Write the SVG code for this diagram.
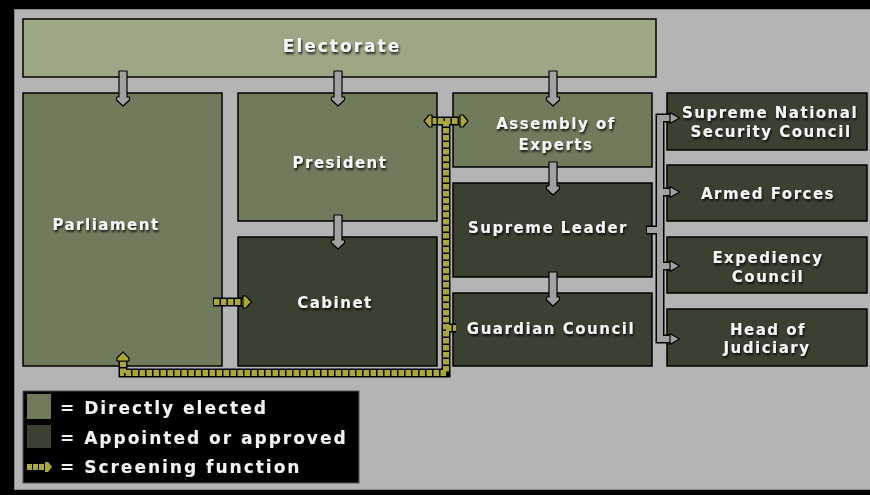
<svg xmlns="http://www.w3.org/2000/svg" width="870" height="495" viewBox="0 0 870 495">
<defs>
<filter id="sh" x="-10%" y="-30%" width="130%" height="180%">
<feDropShadow dx="1" dy="2" stdDeviation="1.2" flood-color="#000" flood-opacity="0.85"/>
</filter>
</defs>
<style>
.box{stroke:#000;stroke-width:1.5}
.lt{fill:#9ba785}
.md{fill:#6f7b5b}
.dk{fill:#3b4131}
.t{font-family:"DejaVu Sans",Verdana,sans-serif;font-weight:bold;font-size:15px;letter-spacing:1.5px;fill:#f6f6f6;text-anchor:middle;filter:url(#sh)}
.lg{font-family:"DejaVu Sans",Verdana,sans-serif;font-weight:bold;font-size:17px;letter-spacing:2px;fill:#f2f2f2;filter:url(#sh)}
.ga{fill:#a2a2a2;stroke:#000;stroke-width:1.2;stroke-linejoin:round}
.gl-o{fill:none;stroke:#000;stroke-width:9}
.gl-i{fill:none;stroke:#a2a2a2;stroke-width:6}
.yl-o{fill:none;stroke:#000;stroke-width:9}
.yl-i{fill:none;stroke:#aaa934;stroke-width:6;stroke-dasharray:5.5 1.5}
.ya{fill:#aaa934;stroke:#000;stroke-width:1.2;stroke-linejoin:round}
</style>
<rect x="0" y="0" width="870" height="495" fill="#000"/>
<rect x="14.5" y="9.5" width="860" height="480" fill="#b4b4b4" stroke="#8a8a8a" stroke-width="1"/>

<g id="electorate"><rect class="box lt" x="23" y="19" width="633" height="58"/><text class="t" x="342" y="52" style="font-size:17px;letter-spacing:2px">Electorate</text></g>
<g id="parliament"><rect class="box md" x="23" y="93" width="199" height="273"/><text class="t" x="106" y="230">Parliament</text></g>
<g id="president"><rect class="box md" x="238" y="93" width="199" height="128"/><text class="t" x="340" y="168">President</text></g>
<g id="cabinet"><rect class="box dk" x="238" y="237" width="199" height="129"/><text class="t" x="335" y="308">Cabinet</text></g>
<g id="assembly"><rect class="box md" x="453" y="93" width="199" height="74"/><text class="t" x="556" y="129">Assembly of</text><text class="t" x="556" y="150">Experts</text></g>
<g id="leader"><rect class="box dk" x="453" y="183" width="199" height="94"/><text class="t" x="548" y="233">Supreme Leader</text></g>
<g id="guardian"><rect class="box dk" x="453" y="293" width="199" height="73"/><text class="t" x="551" y="334">Guardian Council</text></g>
<g id="snsc"><rect class="box dk" x="667" y="93" width="200" height="57"/><text class="t" x="770" y="118">Supreme National</text><text class="t" x="771" y="137">Security Council</text></g>
<g id="armed"><rect class="box dk" x="667" y="165" width="200" height="56"/><text class="t" x="768" y="199">Armed Forces</text></g>
<g id="expediency"><rect class="box dk" x="667" y="237" width="200" height="56"/><text class="t" x="768" y="263">Expediency</text><text class="t" x="768" y="282">Council</text></g>
<g id="judiciary"><rect class="box dk" x="667" y="309" width="200" height="57"/><text class="t" x="768" y="335">Head of</text><text class="t" x="767" y="353">Judiciary</text></g>

<g id="connectors">
<polygon class="ga" points="119,71 127,71 127,97 129.5,97 129.5,100 123,106 116.5,100 116.5,97 119,97"/>
<polygon class="ga" points="334,71 342,71 342,97 344.5,97 344.5,100 338,106 331.5,100 331.5,97 334,97"/>
<polygon class="ga" points="549,71 557,71 557,97 559.5,97 559.5,100 553,106 546.5,100 546.5,97 549,97"/>
<polygon class="ga" points="334,215 342,215 342,240 344.5,240 344.5,243 338,249 331.5,243 331.5,240 334,240"/>
<polygon class="ga" points="549,162 557,162 557,186 559.5,186 559.5,189 553,195 546.5,189 546.5,186 549,186"/>
<polygon class="ga" points="549,272 557,272 557,297 559.5,297 559.5,300 553,306 546.5,300 546.5,297 549,297"/>

<path class="gl-o" d="M646 230H660M672 118H660V339H672M660 192H672M660 266H672"/>
<path class="gl-i" d="M647 230H660M672 118H660V339H672M660 192H672M660 266H672"/>
<polygon class="ga" points="670,112.5 679.5,118 670,123.5"/>
<polygon class="ga" points="670,186.5 679.5,192 670,197.5"/>
<polygon class="ga" points="670,260.5 679.5,266 670,271.5"/>
<polygon class="ga" points="670,333.5 679.5,339 670,344.5"/>

<path class="yl-o" d="M123 360V373H446V121M430 121H462M446 328H456M213 302H243"/>
<path class="yl-i" d="M446 121V373H123V360M431 121H461M446 328H456M214 302H243"/>
<polygon class="ya" points="117,361 117,358 123,352 129,358 129,361"/>
<polygon class="ya" points="432,115 429,115 424,121 429,127 432,127"/>
<polygon class="ya" points="460,115 463,115 468,121 463,127 460,127"/>
<polygon class="ya" points="243,296 246,296 251.5,302 246,308 243,308"/>
</g>

<g id="legend">
<rect x="23" y="391" width="336" height="92" fill="#000" stroke="#555" stroke-width="1"/>
<rect x="27" y="394" width="24" height="25" fill="#6f7b5b"/>
<rect x="27" y="425" width="24" height="23" fill="#3b4131"/>
<rect x="27" y="464" width="5" height="6" fill="#aaa934"/>
<rect x="33" y="464" width="5" height="6" fill="#aaa934"/>
<rect x="39" y="464" width="5" height="6" fill="#aaa934"/>
<polygon points="45,462 48,462 52,467 48,472 45,472" fill="#aaa934"/>
<text class="lg" x="60" y="414">= Directly elected</text>
<text class="lg" x="60" y="444">= Appointed or approved</text>
<text class="lg" x="60" y="473">= Screening function</text>
</g>
</svg>
